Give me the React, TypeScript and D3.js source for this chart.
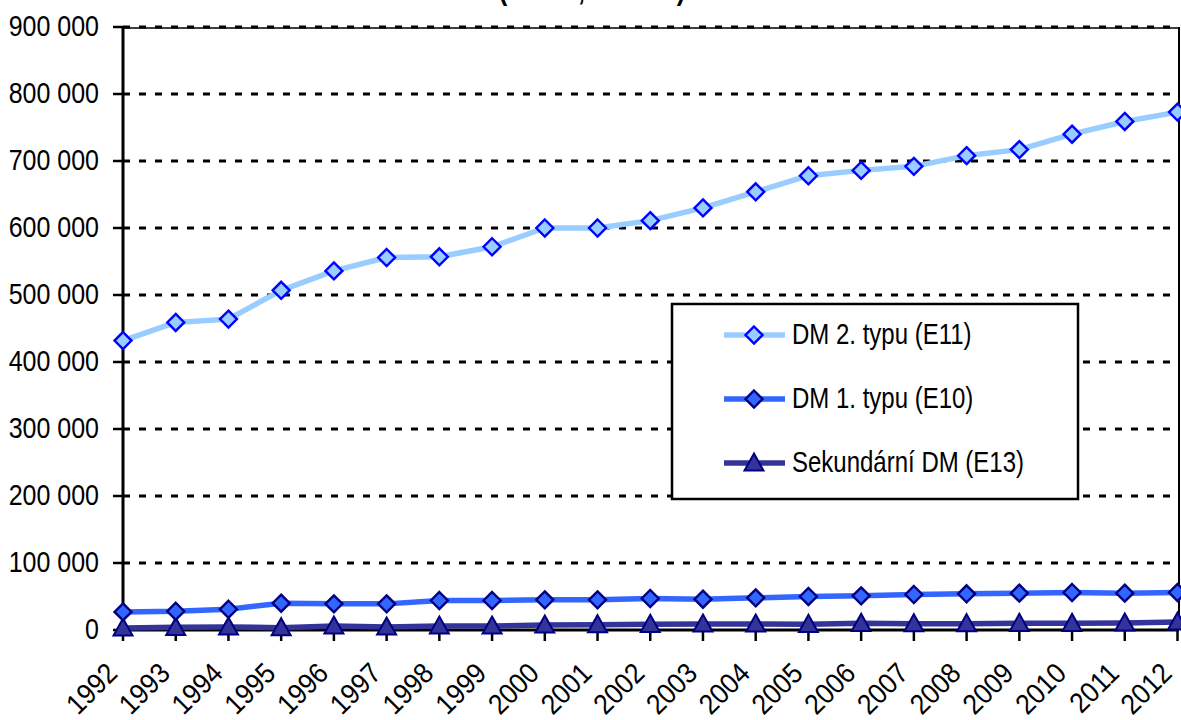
import React from "react";
import * as d3 from "d3";

const years = ["1992","1993","1994","1995","1996","1997","1998","1999","2000","2001","2002","2003","2004","2005","2006","2007","2008","2009","2010","2011","2012"];
const dm2 = [432000,459000,464000,507000,536000,556000,557000,572000,600000,600000,611000,630000,654000,678000,686000,692000,708000,717000,740000,759000,773000];
const dm1 = [27000,28000,31000,40000,39000,39000,44000,44000,45000,45000,47000,46000,48000,50000,51000,53000,54000,55000,56000,55000,56000];
const sec = [3000,4000,4500,3500,6000,4500,6000,6000,7500,8000,8500,9000,9000,8500,10000,9500,9500,10000,10000,10500,12000];
const yTicks = [0,100000,200000,300000,400000,500000,600000,700000,800000,900000];
const seriesNames = ["DM 2. typu (E11)","DM 1. typu (E10)","Sekundární DM (E13)"];
const titleText = "(léčení, celkem)";

const W = 1181, H = 720;
const left = 123, right = 1179, top = 27, bottom = 630;
const SY = 1.2;
const FONT = "'Liberation Sans', Arial, sans-serif";

const series = [
  { name: seriesNames[0], data: dm2, line: "#99CCFF", fill: "#99CCFF", stroke: "#0000FF", marker: "diamond" },
  { name: seriesNames[1], data: dm1, line: "#3366FF", fill: "#3366FF", stroke: "#000080", marker: "diamond" },
  { name: seriesNames[2], data: sec, line: "#333399", fill: "#333399", stroke: "#000080", marker: "triangle" },
];

function Marker({ x, y, type, fill, stroke }: any) {
  if (type === "diamond") {
    const r = 8.5;
    return <path d={`M${x},${y - r}L${x + r},${y}L${x},${y + r}L${x - r},${y}Z`} fill={fill} stroke={stroke} strokeWidth={2.4} />;
  }
  const r = 9.5;
  return <path d={`M${x},${y - r}L${x + r},${y + r * 0.8}L${x - r},${y + r * 0.8}Z`} fill={fill} stroke={stroke} strokeWidth={2} />;
}

export default function App() {
  const x = d3.scalePoint<string>().domain(years).range([left, right - 1.5]);
  const y = d3.scaleLinear().domain([0, 900000]).range([bottom, top]);
  const line = d3.line<number>().x((_, i) => x(years[i])!).y((d) => y(d));

  const legX = 672, legY = 304, legW = 406, legH = 195;
  const legRows = [335, 399, 463];

  return (
    <svg width={W} height={H} style={{ position: "absolute", left: 0, top: 0, background: "#fff" }} fontFamily={FONT}>
      <rect width={W} height={H} fill="#fff" />
      <text transform={`translate(592,0) scale(1,${SY})`} textAnchor="middle" fontSize={25} fontWeight="bold">{titleText}</text>
      {yTicks.filter((t) => t > 0).map((t) => (
        <line key={t} x1={left} x2={right} y1={y(t)} y2={y(t)} stroke="#000" strokeWidth={3} strokeDasharray="7,9" />
      ))}
      <line x1={left} x2={right} y1={top + 1} y2={top + 1} stroke="#000" strokeWidth={1.5} />
      <line x1={right} x2={right} y1={top} y2={bottom} stroke="#000" strokeWidth={2} />
      <line x1={left} x2={left} y1={top} y2={bottom + 2} stroke="#000" strokeWidth={3} />
      {yTicks.map((t) => (
        <g key={t}>
          <line x1={left - 10} x2={left} y1={y(t)} y2={y(t)} stroke="#000" strokeWidth={2.5} />
          <text transform={`translate(99,${y(t) + 8.5}) scale(1,${SY})`} textAnchor="end" fontSize={25}>
            {d3.format(",")(t).replace(/,/g, " ")}
          </text>
        </g>
      ))}
      <line x1={left} x2={right} y1={bottom} y2={bottom} stroke="#000" strokeWidth={3} />
      {years.map((yr) => (
        <g key={yr}>
          <line x1={x(yr)} x2={x(yr)} y1={bottom} y2={bottom + 11} stroke="#000" strokeWidth={2.5} />
          <text transform={`translate(${x(yr)! - 4},${bottom + 45}) rotate(-45) scale(1,1.1)`} textAnchor="end" fontSize={26}>{yr}</text>
        </g>
      ))}
      {series.slice().reverse().map((s) => (
        <g key={s.name}>
          <path d={line(s.data)!} fill="none" stroke={s.line} strokeWidth={5.5} strokeLinejoin="round" />
          {s.data.map((v, i) => (
            <Marker key={i} x={x(years[i])} y={y(v)} type={s.marker} fill={s.fill} stroke={s.stroke} />
          ))}
        </g>
      ))}
      <rect x={legX} y={legY} width={legW} height={legH} fill="#fff" stroke="#000" strokeWidth={2.5} />
      {series.map((s, i) => (
        <g key={s.name}>
          <line x1={724} x2={785} y1={legRows[i]} y2={legRows[i]} stroke={s.line} strokeWidth={5.5} />
          <Marker x={754} y={legRows[i]} type={s.marker} fill={s.fill} stroke={s.stroke} />
          <text transform={`translate(792,${legRows[i] + 8.5}) scale(1,${SY})`} fontSize={24}>{s.name}</text>
        </g>
      ))}
    </svg>
  );
}
